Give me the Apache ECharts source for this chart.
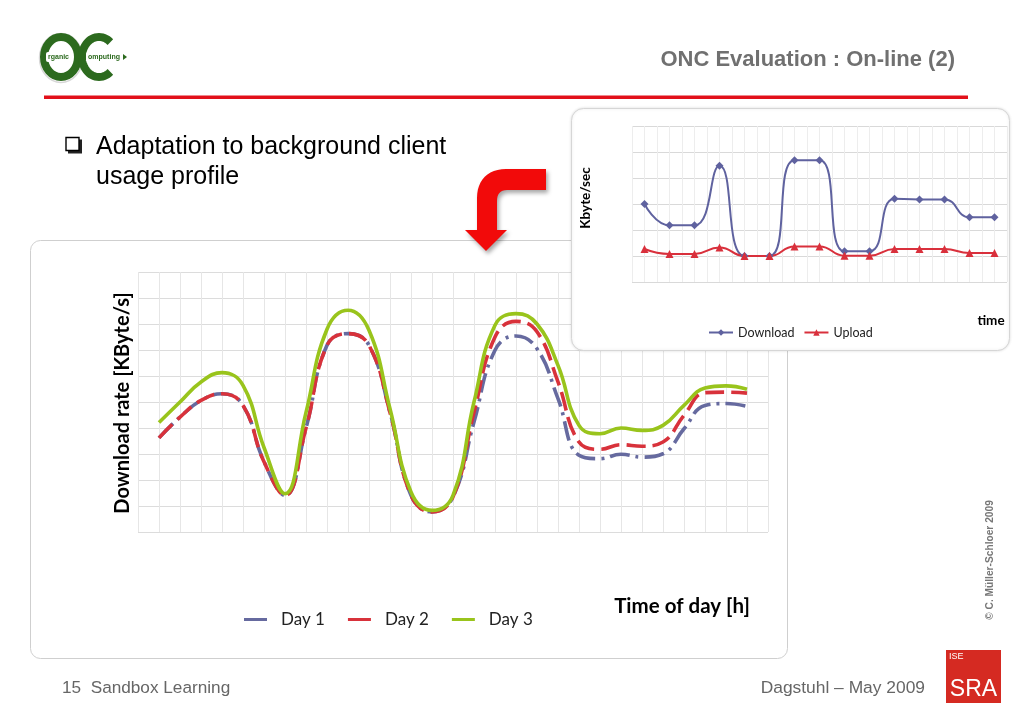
<!DOCTYPE html>
<html>
<head>
<meta charset="utf-8">
<script src="https://cdn.jsdelivr.net/npm/echarts@6/dist/echarts.min.js"></script>
<style>
html,body{margin:0;padding:0;background:#fff;}
#chart{width:1024px;height:720px;}
</style>
</head>
<body>
<div id="chart"></div>
<script>
// ---- Main chart: download rate, read at each half-category grid position (1..29)
const mainLegend = ['Day 1', 'Day 2', 'Day 3'];
const mainDay1 = [3.62, 4.42, 5.06, 5.32, 4.87, 2.70, 1.41, 4.00, 7.18, 7.63, 7.18, 4.60, 1.41, 0.77, 1.35,
                  4.23, 6.99, 7.54, 7.05, 5.13, 2.95, 2.82, 2.99, 2.88, 3.01, 3.97, 4.87, 4.94, 4.83];
const mainDay2 = [3.62, 4.42, 5.06, 5.32, 4.87, 2.70, 1.41, 4.00, 7.18, 7.63, 7.18, 4.60, 1.41, 0.77, 1.35,
                  4.60, 7.50, 8.10, 7.70, 5.77, 3.46, 3.18, 3.36, 3.30, 3.46, 4.49, 5.36, 5.38, 5.34];
const mainDay3 = [4.21, 5.00, 5.77, 6.13, 5.64, 3.25, 1.47, 4.60, 7.80, 8.53, 7.76, 4.74, 1.54, 0.83, 1.41,
                  5.00, 7.95, 8.40, 8.00, 6.41, 4.10, 3.78, 4.00, 3.91, 4.10, 4.87, 5.54, 5.62, 5.49];

// ---- Inset chart: 15 time points
const insetLegend = ['Download', 'Upload'];
const insetDownload = [3.0, 2.18, 2.18, 4.47, 1.0, 1.0, 4.68, 4.68, 1.18, 1.18, 3.2, 3.17, 3.17, 2.49, 2.49];
const insetUpload   = [1.27, 1.08, 1.08, 1.33, 1.0, 1.0, 1.37, 1.37, 1.01, 1.01, 1.27, 1.27, 1.27, 1.12, 1.12];

const C_DAY1 = '#666a9f', C_DAY2 = '#d8323b', C_DAY3 = '#99c41c';
const C_DL = '#5f629f', C_UL = '#d9303c';

const chart = echarts.init(document.getElementById('chart'));

function mainSeries(name, vals, color, dash) {
  return {
    name: name, type: 'line', xAxisIndex: 0, yAxisIndex: 0,
    data: vals.map((v, i) => [i + 1, v]),
    smooth: 0.45, symbol: 'none', showSymbol: false, z: 2,
    itemStyle: {color: color},
    lineStyle: {color: color, width: 3.6, type: dash, cap: 'butt'}
  };
}
function insetSeries(name, vals, color, symbol) {
  return {
    name: name, type: 'line', xAxisIndex: 1, yAxisIndex: 1,
    data: vals.map((v, i) => [2 * i + 1, v]),
    smooth: 0.5, symbol: symbol, symbolSize: 8, showSymbol: true, z: 7,
    itemStyle: {color: color, borderWidth: 0},
    lineStyle: {color: color, width: 2}
  };
}

// helpers for decorative shapes
function bez(p0, p1, p2, p3, n) {
  const out = [];
  for (let i = 1; i <= n; i++) {
    const t = i / n, u = 1 - t;
    out.push([u*u*u*p0[0] + 3*u*u*t*p1[0] + 3*u*t*t*p2[0] + t*t*t*p3[0],
              u*u*u*p0[1] + 3*u*u*t*p1[1] + 3*u*t*t*p2[1] + t*t*t*p3[1]]);
  }
  return out;
}
const arrowPts = [[546, 169], [506, 169]]
  .concat(bez([506, 169], [488, 169], [477, 180], [477, 198], 12))
  .concat([[477, 230], [465, 230], [486, 251], [507, 230], [497, 230], [497, 201]])
  .concat(bez([497, 201], [497, 194], [500, 190], [507, 190], 8))
  .concat([[546, 190]]);
const cPts = [];
for (let a = -48; a >= -312; a -= 6) {
  const r = a * Math.PI / 180;
  cPts.push([99 + 17 * Math.cos(r), 57 + 20 * Math.sin(r)]);
}

const txtFont = '"Liberation Sans", Arial, sans-serif';
const calFont = 'Lato, "Open Sans", sans-serif';

const graphics = [
  {type: 'rect', z: 0, shape: {x: 30.5, y: 240.5, width: 757, height: 418, r: 10},
   style: {fill: '#fff', stroke: '#cfcfcf', lineWidth: 1}},
  {type: 'rect', z: 5, shape: {x: 571.5, y: 108.5, width: 438, height: 242, r: 12},
   style: {fill: '#fff', stroke: '#d6d6d6', lineWidth: 1, shadowBlur: 3, shadowColor: 'rgba(0,0,0,0.12)'}},
  {type: 'text', z: 8, style: {text: 'ONC Evaluation : On-line (2)', x: 955, y: 60,
   font: 'bold 22px ' + txtFont, fill: '#707070', textAlign: 'right', textVerticalAlign: 'middle'}},
  {type: 'rect', z: 8, shape: {x: 44, y: 95.5, width: 924, height: 3.5}, style: {fill: '#e2101a'}},
  {type: 'rect', z: 8, shape: {x: 68, y: 139.5, width: 14, height: 14}, style: {fill: '#222'}},
  {type: 'rect', z: 9, shape: {x: 66, y: 137.5, width: 13, height: 13}, style: {fill: '#fff', stroke: '#000', lineWidth: 1.4}},
  {type: 'text', z: 8, style: {text: 'Adaptation to background client', x: 96, y: 147,
   font: '25px ' + txtFont, fill: '#000', textAlign: 'left', textVerticalAlign: 'middle'}},
  {type: 'text', z: 8, style: {text: 'usage profile', x: 96, y: 177,
   font: '25px ' + txtFont, fill: '#000', textAlign: 'left', textVerticalAlign: 'middle'}},
  {type: 'polygon', z: 8, shape: {points: arrowPts},
   style: {fill: '#f20a0a', shadowBlur: 4, shadowOffsetX: 2, shadowOffsetY: 3, shadowColor: 'rgba(0,0,0,0.35)'}},
  {type: 'text', z: 8, x: 123, y: 403, rotation: Math.PI / 2, style: {text: 'Download rate [KByte/s]', x: 0, y: 0,
   font: 'bold 20px ' + calFont, fill: '#000', textAlign: 'center', textVerticalAlign: 'middle'}},
  {type: 'text', z: 8, style: {text: 'Time of day [h]', x: 682, y: 606,
   font: 'bold 20.5px ' + calFont, fill: '#000', textAlign: 'center', textVerticalAlign: 'middle'}},
  {type: 'text', z: 8, x: 586, y: 198, rotation: Math.PI / 2, style: {text: 'Kbyte/sec', x: 0, y: 0,
   font: 'bold 13.5px ' + calFont, fill: '#000', textAlign: 'center', textVerticalAlign: 'middle'}},
  {type: 'text', z: 8, style: {text: 'time', x: 991, y: 321,
   font: 'bold 13.5px ' + calFont, fill: '#000', textAlign: 'center', textVerticalAlign: 'middle'}},
  {type: 'text', z: 8, x: 990, y: 560, rotation: Math.PI / 2, style: {text: '\u00A9 C. M\u00FCller-Schloer 2009', x: 0, y: 0,
   font: 'bold 10.2px ' + txtFont, fill: '#777', textAlign: 'center', textVerticalAlign: 'middle'}},
  {type: 'text', z: 8, style: {text: '15  Sandbox Learning', x: 62, y: 688,
   font: '17.2px ' + txtFont, fill: '#666', textAlign: 'left', textVerticalAlign: 'middle'}},
  {type: 'text', z: 8, style: {text: 'Dagstuhl \u2013 May 2009', x: 925, y: 688,
   font: '17.4px ' + txtFont, fill: '#666', textAlign: 'right', textVerticalAlign: 'middle'}},
  {type: 'rect', z: 8, shape: {x: 946, y: 650, width: 55, height: 53}, style: {fill: '#d52a22'}},
  {type: 'text', z: 9, style: {text: 'ISE', x: 949, y: 657, font: '9px ' + txtFont, fill: '#fff',
   textAlign: 'left', textVerticalAlign: 'middle'}},
  {type: 'text', z: 9, style: {text: 'SRA', x: 973.5, y: 690, font: '23px ' + txtFont, fill: '#fff',
   textAlign: 'center', textVerticalAlign: 'middle'}},
  {type: 'ellipse', z: 8, shape: {cx: 61, cy: 58, rx: 21.5, ry: 24.5}, style: {fill: 'none', stroke: '#d8d8d8', lineWidth: 1.5}},
  {type: 'ellipse', z: 9, shape: {cx: 61, cy: 57, rx: 17, ry: 20}, style: {fill: 'none', stroke: '#2c6a1e', lineWidth: 8}},
  {type: 'polyline', z: 9, shape: {points: cPts}, style: {fill: 'none', stroke: '#2c6a1e', lineWidth: 8}},
  {type: 'rect', z: 10, shape: {x: 46, y: 52, width: 25, height: 10, r: 2}, style: {fill: '#fff'}},
  {type: 'text', z: 11, style: {text: 'rganic', x: 58.5, y: 57, font: 'bold 7px ' + txtFont, fill: '#2c6a1e',
   textAlign: 'center', textVerticalAlign: 'middle'}},
  {type: 'rect', z: 10, shape: {x: 86, y: 52, width: 36, height: 10, r: 2}, style: {fill: '#fff'}},
  {type: 'text', z: 11, style: {text: 'omputing', x: 104, y: 57, font: 'bold 7px ' + txtFont, fill: '#2c6a1e',
   textAlign: 'center', textVerticalAlign: 'middle'}},
  {type: 'polygon', z: 11, shape: {points: [[123, 54], [127, 57], [123, 60]]}, style: {fill: '#2c6a1e'}}
];

const option = {
  animation: false,
  backgroundColor: '#fff',
  grid: [
    {left: 138, top: 272, width: 630, height: 260, show: false},
    {left: 632, top: 126, width: 375, height: 156, show: false}
  ],
  xAxis: [
    {gridIndex: 0, type: 'value', min: 0, max: 30, interval: 1, z: 1,
     axisLine: {show: false}, axisTick: {show: false}, axisLabel: {show: false},
     splitLine: {show: true, lineStyle: {color: '#e6e6e6', width: 1}}},
    {gridIndex: 1, type: 'value', min: 0, max: 30, interval: 1, z: 6,
     axisLine: {show: false}, axisTick: {show: false}, axisLabel: {show: false},
     splitLine: {show: true, lineStyle: {color: '#ededed', width: 1}}}
  ],
  yAxis: [
    {gridIndex: 0, type: 'value', min: 0, max: 10, interval: 1, z: 1,
     axisLine: {show: false}, axisTick: {show: false}, axisLabel: {show: false},
     splitLine: {show: true, lineStyle: {color: '#dcdcdc', width: 1}}},
    {gridIndex: 1, type: 'value', min: 0, max: 6, interval: 1, z: 6,
     axisLine: {show: false}, axisTick: {show: false}, axisLabel: {show: false},
     splitLine: {show: true, lineStyle: {color: '#d9d9d9', width: 1}}}
  ],
  legend: [
    {data: mainLegend, left: 244, top: 611, padding: 0, icon: 'rect', itemWidth: 23, itemHeight: 3,
     itemGap: 23, z: 8, selectedMode: false, itemStyle: {borderWidth: 0},
     textStyle: {fontFamily: calFont, fontSize: 17, color: '#222', padding: [0, 0, 0, 9]}},
    {data: insetLegend, left: 708, top: 326, padding: 0, itemWidth: 24, itemHeight: 8,
     itemGap: 9, z: 8, selectedMode: false,
     textStyle: {fontFamily: calFont, fontSize: 12.5, color: '#222'}}
  ],
  graphic: {elements: graphics},
  series: [
    mainSeries('Day 1', mainDay1, C_DAY1, [20, 6, 3, 6]),
    mainSeries('Day 2', mainDay2, C_DAY2, [19, 7]),
    mainSeries('Day 3', mainDay3, C_DAY3, 'solid'),
    insetSeries('Download', insetDownload, C_DL, 'diamond'),
    insetSeries('Upload', insetUpload, C_UL, 'triangle')
  ]
};
chart.setOption(option);
</script>
</body>
</html>
